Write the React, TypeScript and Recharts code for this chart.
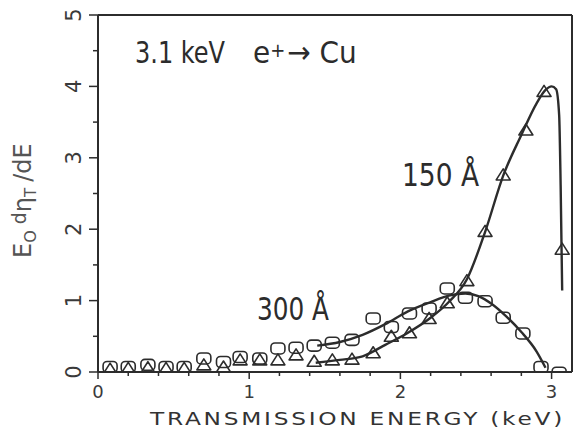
import { ComposedChart, Line, Scatter, XAxis, YAxis } from 'recharts';

// measured points, 150 Å film (triangles)
const pts150 = [
  { x: 0.08, y: 0.04 }, { x: 0.2, y: 0.05 }, { x: 0.33, y: 0.06 }, { x: 0.45, y: 0.05 },
  { x: 0.57, y: 0.05 }, { x: 0.7, y: 0.1 }, { x: 0.83, y: 0.07 }, { x: 0.94, y: 0.17 },
  { x: 1.07, y: 0.17 }, { x: 1.19, y: 0.17 }, { x: 1.31, y: 0.24 }, { x: 1.43, y: 0.15 },
  { x: 1.55, y: 0.17 }, { x: 1.68, y: 0.18 }, { x: 1.82, y: 0.27 }, { x: 1.94, y: 0.5 },
  { x: 2.06, y: 0.55 }, { x: 2.19, y: 0.75 }, { x: 2.31, y: 0.97 }, { x: 2.44, y: 1.28 },
  { x: 2.56, y: 1.97 }, { x: 2.68, y: 2.76 }, { x: 2.83, y: 3.39 }, { x: 2.95, y: 3.93 },
  { x: 3.07, y: 1.72 },
];

// measured points, 300 Å film (open circles)
const pts300 = [
  { x: 0.08, y: 0.07 }, { x: 0.2, y: 0.07 }, { x: 0.33, y: 0.1 }, { x: 0.45, y: 0.07 },
  { x: 0.57, y: 0.07 }, { x: 0.7, y: 0.19 }, { x: 0.83, y: 0.14 }, { x: 0.94, y: 0.21 },
  { x: 1.07, y: 0.19 }, { x: 1.19, y: 0.33 }, { x: 1.31, y: 0.34 }, { x: 1.43, y: 0.37 },
  { x: 1.55, y: 0.41 }, { x: 1.68, y: 0.45 }, { x: 1.82, y: 0.75 }, { x: 1.94, y: 0.63 },
  { x: 2.06, y: 0.82 }, { x: 2.19, y: 0.89 }, { x: 2.31, y: 1.17 }, { x: 2.43, y: 1.04 },
  { x: 2.56, y: 0.99 }, { x: 2.68, y: 0.76 }, { x: 2.81, y: 0.54 }, { x: 2.93, y: 0.07 },
  { x: 3.05, y: -0.01 },
];

// hand-drawn guide curves
const curve150 = [
  { x: 1.44, y: 0.13 }, { x: 1.6, y: 0.17 }, { x: 1.75, y: 0.22 }, { x: 1.9, y: 0.38 },
  { x: 2.05, y: 0.55 }, { x: 2.2, y: 0.76 }, { x: 2.32, y: 0.98 }, { x: 2.44, y: 1.3 },
  { x: 2.56, y: 1.96 }, { x: 2.68, y: 2.75 }, { x: 2.8, y: 3.32 }, { x: 2.9, y: 3.76 },
  { x: 2.96, y: 3.95 }, { x: 3.0, y: 4.0 }, { x: 3.03, y: 3.96 }, { x: 3.05, y: 3.6 },
  { x: 3.06, y: 2.6 }, { x: 3.07, y: 1.14 },
];

const curve300 = [
  { x: 1.45, y: 0.37 }, { x: 1.6, y: 0.42 }, { x: 1.75, y: 0.52 }, { x: 1.9, y: 0.67 },
  { x: 2.05, y: 0.85 }, { x: 2.2, y: 0.98 }, { x: 2.32, y: 1.07 }, { x: 2.43, y: 1.1 },
  { x: 2.52, y: 1.06 }, { x: 2.6, y: 0.96 }, { x: 2.7, y: 0.78 }, { x: 2.8, y: 0.56 },
  { x: 2.9, y: 0.29 }, { x: 2.96, y: 0.06 },
];

const xTicks = [0, 0.2, 0.4, 0.6, 0.8, 1, 1.2, 1.4, 1.6, 1.8, 2, 2.2, 2.4, 2.6, 2.8, 3];
const xLabels = [0, 1, 2, 3];
const yTicks = [0, 0.5, 1, 1.5, 2, 2.5, 3, 3.5, 4, 4.5, 5];
const yLabels = [0, 1, 2, 3, 4, 5];

const W = 577;
const H = 436;
const LEFT = 98;
const RIGHT = 572;
const TOP = 15;
const BOTTOM = 372;
const INK = '#2c2c2c';
const LABEL_FONT = "'DejaVu Sans', sans-serif";
const NARROW_FONT = "'Liberation Sans Narrow', 'DejaVu Sans Condensed', 'Liberation Sans', sans-serif";

const isMajor = (v: number) => Math.abs(v - Math.round(v)) < 1e-6;

function BottomTick({ x, payload }: any) {
  const v = payload.value;
  const major = isMajor(v);
  return (
    <g>
      <line x1={x} y1={BOTTOM} x2={x} y2={BOTTOM + (major ? 7 : 4)} stroke={INK} strokeWidth={1.5} />
      {xLabels.includes(v) && (
        <text x={x} y={398} textAnchor="middle" fontSize={18} fontFamily={LABEL_FONT} fill="#3a3a3a">
          {v}
        </text>
      )}
    </g>
  );
}

function TopTick({ x }: any) {
  return <line x1={x} y1={TOP} x2={x} y2={TOP - 4} stroke={INK} strokeWidth={1.5} />;
}

function LeftTick({ y, payload }: any) {
  const v = payload.value;
  const major = isMajor(v);
  return (
    <g>
      <line x1={LEFT} y1={y} x2={LEFT - (major ? 9 : 5)} y2={y} stroke={INK} strokeWidth={1.5} />
      {yLabels.includes(v) && (
        <text
          x={74}
          y={y}
          textAnchor="middle"
          dominantBaseline="central"
          fontSize={21}
          fontFamily={LABEL_FONT}
          fill="#3a3a3a"
          transform={`rotate(-90, 74, ${y})`}
        >
          {v}
        </text>
      )}
    </g>
  );
}

function RightTick({ y }: any) {
  return <line x1={RIGHT} y1={y} x2={RIGHT + 4} y2={y} stroke={INK} strokeWidth={1.5} />;
}

function CircleMark({ cx, cy }: any) {
  return <rect x={cx - 7} y={cy - 5.5} width={14} height={11} rx={4} fill="none" stroke={INK} strokeWidth={1.6} />;
}

function TriangleMark({ cx, cy }: any) {
  return (
    <polygon
      points={`${cx},${cy - 6} ${cx - 7},${cy + 5} ${cx + 7},${cy + 5}`}
      fill="none"
      stroke={INK}
      strokeWidth={1.6}
      strokeLinejoin="round"
    />
  );
}

function Annotations() {
  return (
    <svg width={W} height={H} style={{ position: 'absolute', left: 0, top: 0, pointerEvents: 'none' }}>
      <text x={135} y={63} fontSize={31} fontFamily={NARROW_FONT} fill={INK} textLength={90} lengthAdjust="spacingAndGlyphs">
        3.1 keV
      </text>
      <text x={253} y={63} fontSize={31} fontFamily={NARROW_FONT} fill={INK}>
        <tspan>e</tspan>
        <tspan fontSize={20} dy={-6}>+</tspan>
        <tspan dy={6} dx={2}>→ Cu</tspan>
      </text>
      <text x={402} y={186} fontSize={32} fontFamily={NARROW_FONT} fill={INK} textLength={77} lengthAdjust="spacingAndGlyphs">
        150 Å
      </text>
      <text x={257} y={320} fontSize={32} fontFamily={NARROW_FONT} fill={INK} textLength={72} lengthAdjust="spacingAndGlyphs">
        300 Å
      </text>
      <text
        x={150}
        y={425}
        fontSize={17}
        letterSpacing={2}
        fontFamily={LABEL_FONT}
        fill="#333"
        textLength={415}
        lengthAdjust="spacingAndGlyphs"
      >
        TRANSMISSION ENERGY (keV)
      </text>
      <text transform="translate(31, 258) rotate(-90)" fontSize={24} fontFamily={LABEL_FONT} fill="#555">
        <tspan>E</tspan>
        <tspan fontSize={16} dy={5}>O</tspan>
        <tspan fontSize={19} dy={-10} dx={6}>d</tspan>
        <tspan dy={5}>η</tspan>
        <tspan fontSize={15} dy={5}>T</tspan>
        <tspan dy={-5} dx={6}>/dE</tspan>
      </text>
    </svg>
  );
}

export default function App() {
  return (
    <div style={{ position: 'absolute', left: 0, top: 0, width: W, height: H, background: '#fff' }}>
      <ComposedChart
        width={W}
        height={H}
        margin={{ top: TOP - 1, right: W - RIGHT - 1, bottom: H - BOTTOM - 1, left: LEFT - 1 }}
      >
        <XAxis
          type="number"
          dataKey="x"
          domain={[0, 3.135]}
          ticks={xTicks}
          interval={0}
          height={1}
          axisLine={{ stroke: INK, strokeWidth: 2 }}
          tickLine={false}
          tick={<BottomTick />}
          allowDataOverflow
        />
        <XAxis
          xAxisId="top"
          orientation="top"
          type="number"
          dataKey="x"
          domain={[0, 3.135]}
          ticks={xTicks}
          interval={0}
          height={1}
          axisLine={{ stroke: INK, strokeWidth: 2 }}
          tickLine={false}
          tick={<TopTick />}
        />
        <YAxis
          type="number"
          domain={[0, 5]}
          ticks={yTicks}
          interval={0}
          width={1}
          axisLine={{ stroke: INK, strokeWidth: 2 }}
          tickLine={false}
          tick={<LeftTick />}
          allowDataOverflow
        />
        <YAxis
          yAxisId="right"
          orientation="right"
          type="number"
          domain={[0, 5]}
          ticks={yTicks}
          interval={0}
          width={1}
          axisLine={{ stroke: INK, strokeWidth: 2 }}
          tickLine={false}
          tick={<RightTick />}
        />
        <Line
          data={curve300}
          dataKey="y"
          type="monotone"
          stroke={INK}
          strokeWidth={2.4}
          dot={false}
          isAnimationActive={false}
        />
        <Line
          data={curve150}
          dataKey="y"
          type="monotone"
          stroke={INK}
          strokeWidth={2.4}
          dot={false}
          isAnimationActive={false}
        />
        <Scatter data={pts300} dataKey="y" shape={<CircleMark />} isAnimationActive={false} />
        <Scatter data={pts150} dataKey="y" shape={<TriangleMark />} isAnimationActive={false} />
      </ComposedChart>
      <Annotations />
    </div>
  );
}
